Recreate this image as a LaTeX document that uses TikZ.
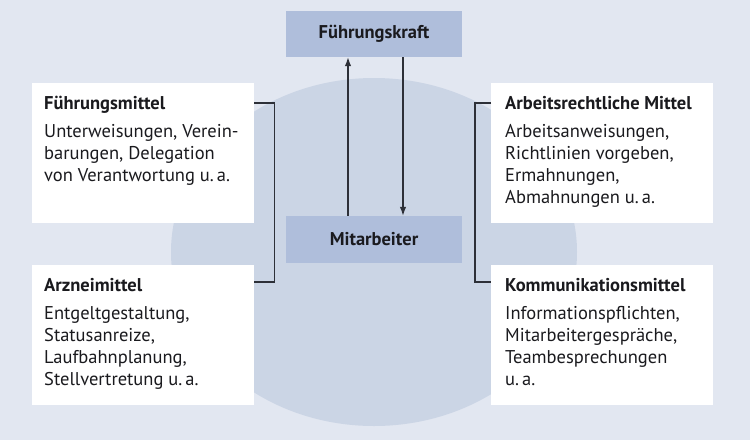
\documentclass[tikz,border=0pt]{standalone}
\usepackage{fontspec}
\setmainfont{PT Sans}
\usetikzlibrary{arrows.meta}
\definecolor{bgc}{RGB}{226,231,241}
\definecolor{circc}{RGB}{203,213,229}
\definecolor{bluebox}{RGB}{175,190,219}
\definecolor{linec}{RGB}{45,48,56}
\definecolor{txtc}{RGB}{26,26,30}
\tikzset{
  headbox/.style={fill=bluebox, draw=none, minimum width=176pt, minimum height=46pt, inner sep=0pt,
    font=\fontsize{18.5}{22.3}\selectfont\bfseries, text=txtc},
  whitebox/.style={fill=white, draw=none, minimum width=222pt, minimum height=140pt, inner sep=0pt},
  boxtext/.style={anchor=base west, inner sep=0pt, align=left, text=txtc,
    font=\fontsize{18.5}{22.3}\selectfont},
  conn/.style={draw=linec, line width=1.3pt},
  tip/.style={-{Latex[length=9pt,width=6.5pt]}},
}
\begin{document}
\begin{tikzpicture}[x=1pt,y=-1pt]
\useasboundingbox (0,0) rectangle (750,440);
\fill[bgc] (0,0) rectangle (750,440);
\fill[circc] (374,252) ellipse [x radius=203, y radius=174];

\node[headbox] (fk) at (374,34) {Führungskraft};
\node[headbox, minimum height=47pt] (ma) at (374,239.5) {Mitarbeiter};

\node[whitebox, anchor=north west] (lt) at (32,83) {};
\node[whitebox, anchor=north west] (lb) at (32,265) {};
\node[whitebox, anchor=north west] (rt) at (491,83) {};
\node[whitebox, anchor=north west] (rb) at (491,265) {};

% anchor base = baseline of the last line
\node[boxtext] (ltt) at (44,181.6) {\textbf{Führungsmittel}\\[5.7pt]
  Unterweisungen, Verein-\\barungen, Delegation\\von Verantwortung u.\,a.};
\node[boxtext] (lbt) at (44,385.9) {\textbf{Arzneimittel}\\[5.7pt]
  Entgeltgestaltung,\\Statusanreize,\\Laufbahnplanung,\\Stellvertretung u.\,a.};
\node[boxtext] (rtt) at (505,203.9) {\textbf{Arbeitsrechtliche Mittel}\\[5.7pt]
  Arbeitsanweisungen,\\Richtlinien vorgeben,\\Ermahnungen,\\Abmahnungen u.\,a.};
\node[boxtext] (rbt) at (505,385.9) {\textbf{Kommunikationsmittel}\\[5.7pt]
  Informationspflichten,\\Mitarbeitergespräche,\\Teambesprechungen\\u.\,a.};

\draw[conn, tip] ([xshift=-26pt]ma.north) -- ([xshift=-26pt]fk.south);
\draw[conn, tip] ([xshift=29pt]fk.south) -- ([xshift=29pt]ma.north);

\draw[conn] ([yshift=-20pt]lt.north east) -- ++(20,0) |- ([yshift=-17pt]lb.north east);
\draw[conn] ([yshift=-20pt]rt.north west) -- ++(-16,0) |- ([yshift=-17pt]rb.north west);
\end{tikzpicture}
\end{document}
